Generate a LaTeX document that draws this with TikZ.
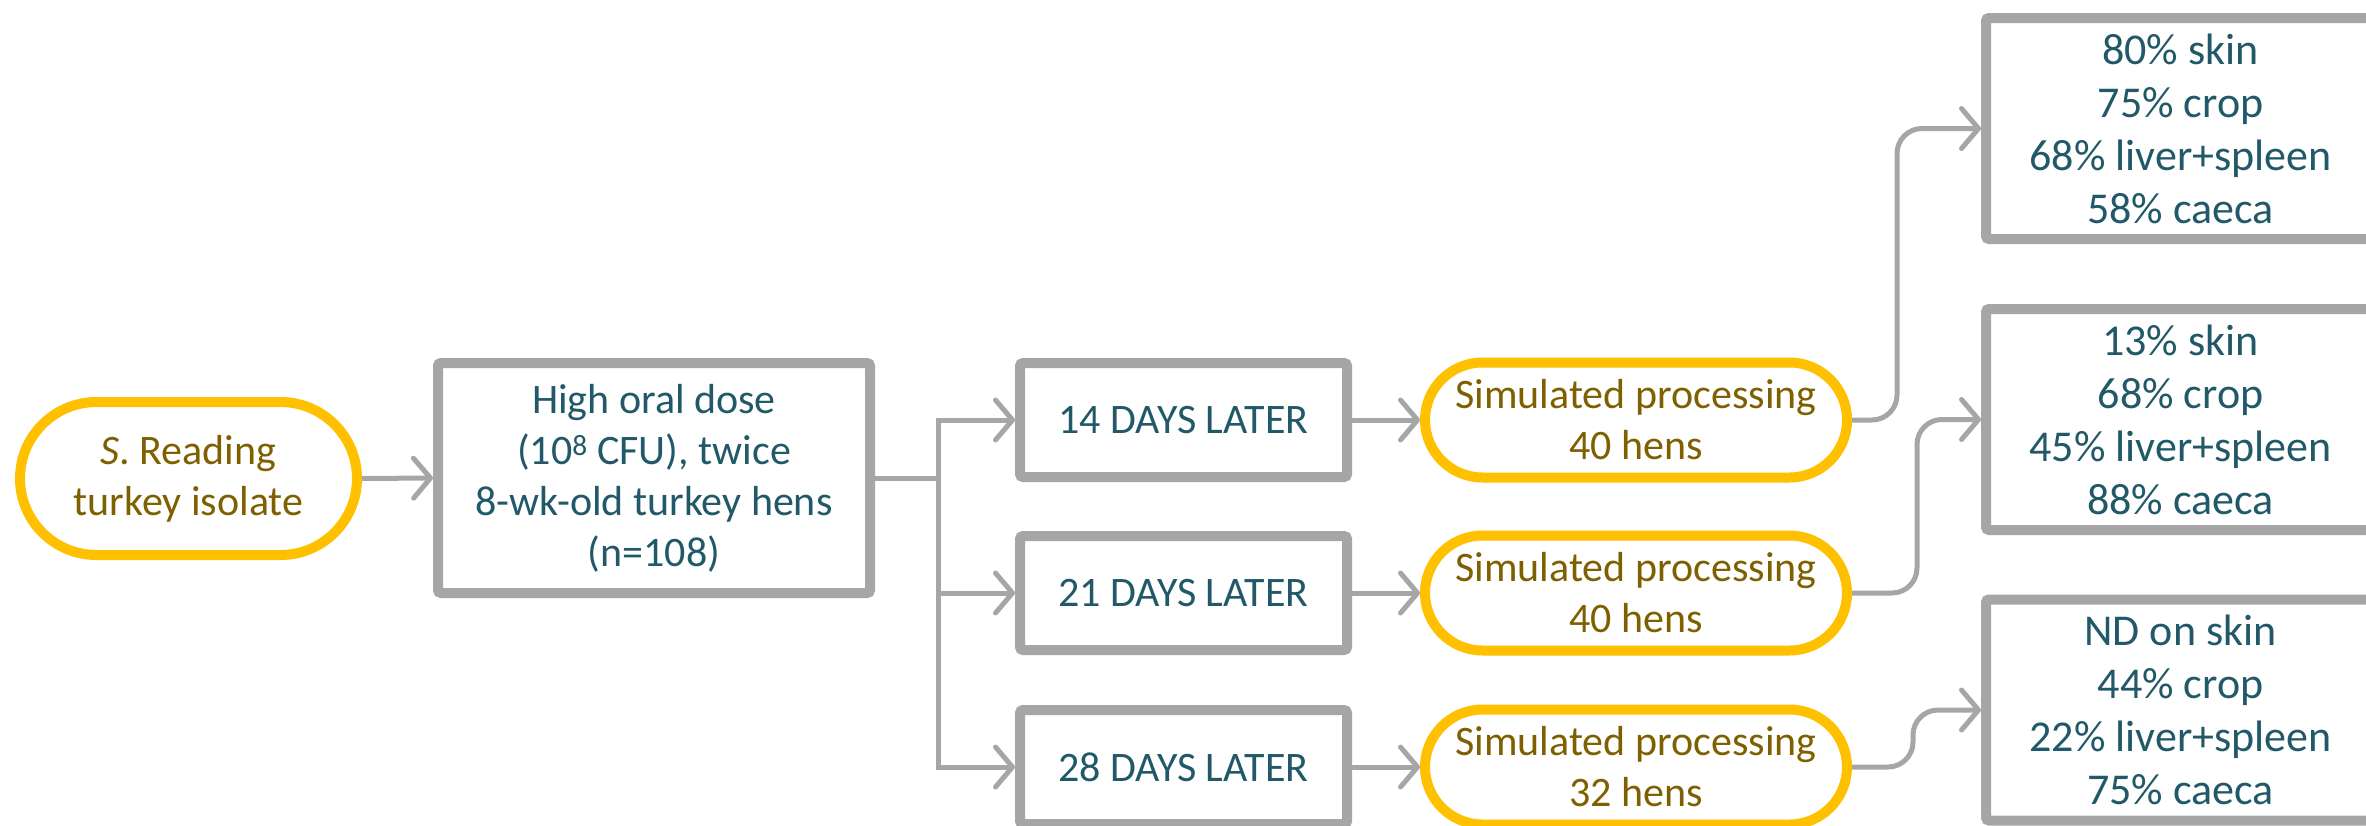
\documentclass[tikz,border=0pt]{standalone}
\usepackage{fontspec}
\setmainfont{Carlito}
\usetikzlibrary{arrows.meta,shapes.misc}

\definecolor{boxgray}{HTML}{A6A6A6}
\definecolor{pillgold}{HTML}{FFC000}
\definecolor{olivetext}{HTML}{7F6000}
\definecolor{tealtext}{HTML}{215968}

\tikzset{
  graybox/.style={draw=boxgray, line width=10pt, rounded corners=3pt, fill=white,
    inner sep=0pt, align=center, text=tealtext,
    font=\fontsize{42pt}{51pt}\selectfont},
  resultbox/.style={graybox, font=\fontsize{44pt}{53pt}\selectfont},
  goldpill/.style={rounded rectangle, draw=pillgold, line width=10pt, fill=white,
    inner sep=0pt, align=center, text=olivetext,
    font=\fontsize{42pt}{51pt}\selectfont},
  link/.style={draw=boxgray, line width=5pt,
    -{Straight Barb[length=17pt,width=40pt,round]}},
  plainlink/.style={draw=boxgray, line width=5pt},
}

\begin{document}
\begin{tikzpicture}[x=1pt, y=-1pt]
  \clip (0,0) rectangle (2366,825);
  \fill[white] (0,0) rectangle (2366,825);

  % source isolate and inoculation
  \node[goldpill, minimum width=337pt, minimum height=153pt] (iso) at (188.5,478.5)
    {\textit{S}. Reading\\turkey isolate};
  \node[graybox, minimum width=432pt, minimum height=230pt] (dose) at (654,478)
    {High oral dose\\(10\textsuperscript{8} CFU), twice\\8-wk-old turkey hens\\(n=108)};

  % sampling times
  \node[graybox, minimum width=327pt, minimum height=114pt] (d14) at (1183.5,420) {14 DAYS LATER};
  \node[graybox, minimum width=327pt, minimum height=114pt] (d21) at (1183.5,593) {21 DAYS LATER};
  \node[graybox, minimum width=327pt, minimum height=114pt] (d28) at (1183.5,767) {28 DAYS LATER};

  % processing
  \node[goldpill, minimum width=422pt, minimum height=115pt] (p14) at (1636,420) {Simulated processing\\40 hens};
  \node[goldpill, minimum width=422pt, minimum height=115pt] (p21) at (1636,593) {Simulated processing\\40 hens};
  \node[goldpill, minimum width=422pt, minimum height=115pt] (p28) at (1636,767) {Simulated processing\\32 hens};

  % outcomes
  \node[resultbox, minimum width=389pt, minimum height=221pt] (r1) at (2180.5,128.5)
    {80\% skin\\75\% crop\\68\% liver+spleen\\58\% caeca};
  \node[resultbox, minimum width=389pt, minimum height=221pt] (r2) at (2180.5,419.5)
    {13\% skin\\68\% crop\\45\% liver+spleen\\88\% caeca};
  \node[resultbox, minimum width=389pt, minimum height=221pt] (r3) at (2180.5,710)
    {ND on skin\\44\% crop\\22\% liver+spleen\\75\% caeca};

  % connectors
  \coordinate (split) at (938,478);
  \draw[link] (iso.east) -- (dose.west);
  \draw[plainlink] (dose.east) -- (split);
  \draw[link] (split) |- (d14.west);
  \draw[link] (split) |- (d21.west);
  \draw[link] (split) |- (d28.west);

  \draw[link] (d14.east) -- (p14.west);
  \draw[link] (d21.east) -- (p21.west);
  \draw[link] (d28.east) -- (p28.west);

  \draw[link, rounded corners=25pt] (p14.east) -- ++(45,0) |- (r1.west);
  \draw[link, rounded corners=25pt] (p21.east) -- ++(65,0) |- (r2.west);
  \draw[link, rounded corners=25pt] (p28.east) -- ++(61,0) |- (r3.west);
\end{tikzpicture}
\end{document}
